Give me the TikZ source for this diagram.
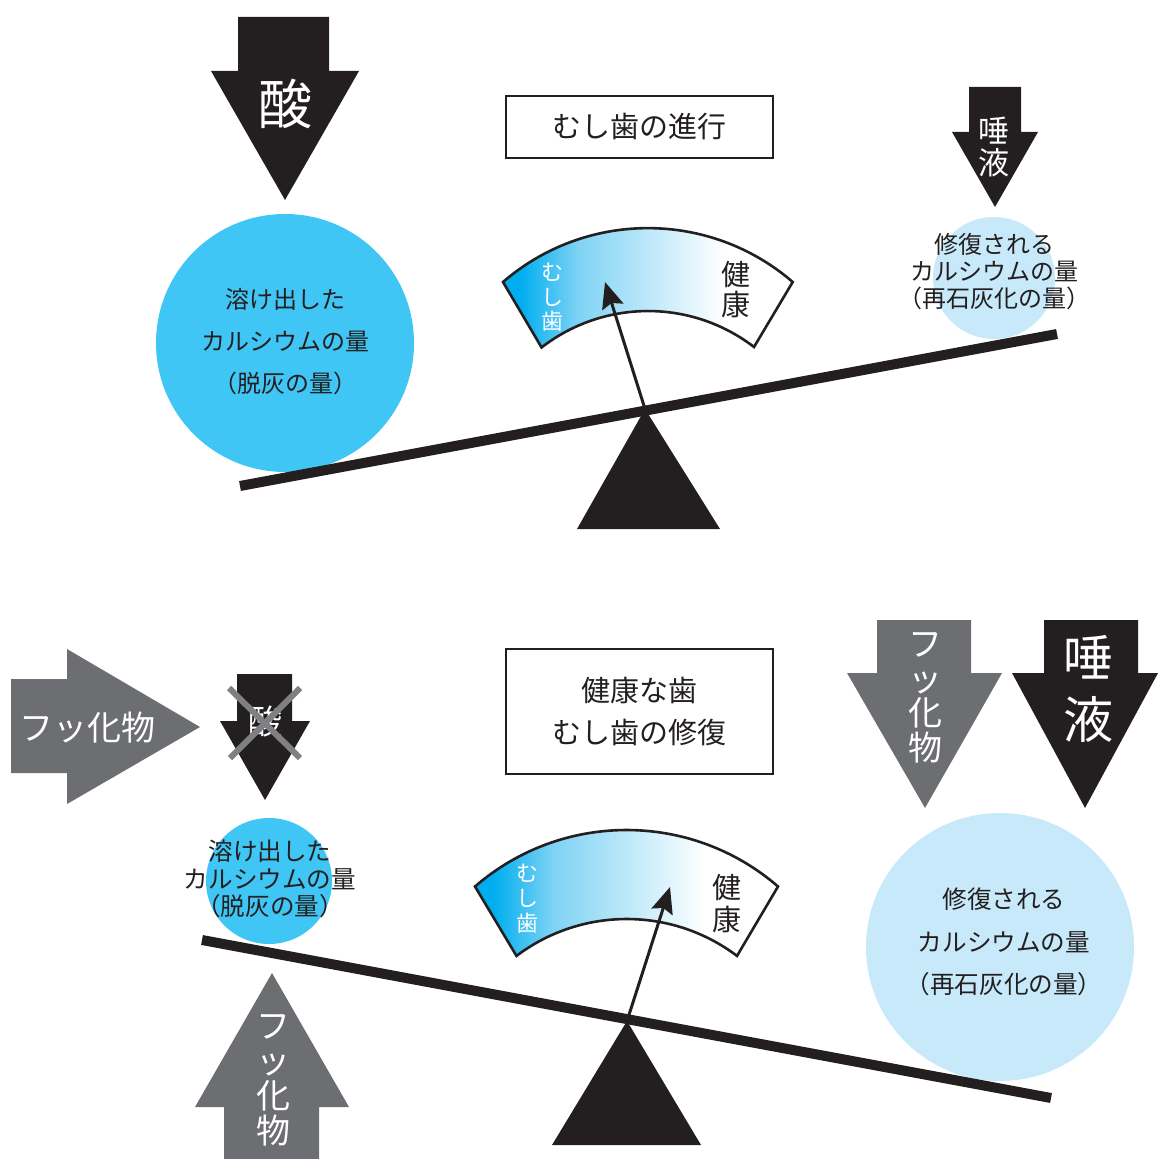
\documentclass[tikz,border=0pt]{standalone}
\usepackage{fontspec}
\setmainfont{Noto Sans CJK JP}
\usetikzlibrary{arrows.meta}
\definecolor{ink}{HTML}{231F20}
\definecolor{fgray}{HTML}{6D6E71}
\definecolor{xgray}{HTML}{7F8083}
\definecolor{bigcyan}{HTML}{40C6F4}
\definecolor{paleblue}{HTML}{C7E9F9}
\definecolor{gcyan}{HTML}{00AEEF}
\definecolor{gmid}{HTML}{7FD3F5}
\pgfdeclarehorizontalshading{gaugeshade}{100bp}{color(0bp)=(gcyan); color(28bp)=(gcyan); color(38bp)=(gmid); color(63bp)=(white); color(100bp)=(white)}
\newcommand{\fsz}[2]{\fontsize{#1}{#2}\selectfont}
\tikzset{
  blkarrow/.style={fill=ink, draw=none},
  gryarrow/.style={fill=fgray, draw=none},
  beamline/.style={draw=ink, line width=5pt},
  fulcrum/.style={fill=ink, draw=none},
  lbl/.style={inner sep=0pt, align=center, text=ink},
  wlbl/.style={inner sep=0pt, align=center, text=white},
  titlebox/.style={draw=ink, line width=1pt, inner sep=0pt, align=center, text=ink, minimum width=133.5pt},
  gaugeshape/.style={draw=ink, line width=1.3pt, line join=miter, shade, shading=gaugeshade},
  needle/.style={draw=ink, line width=1.5pt, -{Stealth[length=13pt,width=11pt,inset=2pt]}},
  crossline/.style={draw=xgray, line width=3pt},
}
\begin{document}
\begin{tikzpicture}[x=0.5pt,y=-0.5pt]
\useasboundingbox (0,0) rectangle (1159,1159);

% ================= TOP =================
% acid arrow
\fill[blkarrow] (238,17) -- (329,17) -- (329,71) -- (359,71) -- (285,200) -- (211,71) -- (238,71) -- cycle;
\node[wlbl, font=\fsz{27}{27}] (acidA) at (285,104) {酸};

% title
\node[titlebox, minimum height=31pt, font=\fsz{14.5}{14.5}] (titleA) at (639.5,127) {むし歯の進行};

% saliva arrow
\fill[blkarrow] (969,87) -- (1021,87) -- (1021,132) -- (1038,132) -- (995,207) -- (952,132) -- (969,132) -- cycle;
\node[wlbl, font=\fsz{15.5}{15.8}] (salivaA) at (994,147) {唾\\液};

% circles
\fill[bigcyan] (285,343) circle[radius=129];
\node[lbl, font=\fsz{12}{21}] (dissolveA) at (285,342) {溶け出した\\カルシウムの量\\（脱灰の量）};
\fill[paleblue] (994,278) circle[radius=61];
\node[lbl, font=\fsz{12}{13.5}] (repairA) at (994,272) {修復される\\カルシウムの量\\（再石灰化の量）};

% gauge
\path[gaugeshape] (503,282) arc[start angle=-130.8, end angle=-49.2, radius=221.7] -- (754,347) arc[start angle=-52.5, end angle=-127.75, radius=174] -- cycle;
\node[wlbl, font=\fsz{11}{12.25}] (cariesA) at (552,297.5) {む\\し\\歯};
\node[lbl, font=\fsz{14.5}{15}] (healthA) at (736,290) {健\\康};

% beam and fulcrum
\coordinate (beamAl) at (240,486);
\coordinate (beamAr) at (1057,334);
\draw[beamline] (beamAl) -- (beamAr);
\coordinate (pivotA) at (645,409);
\fill[fulcrum] (pivotA) -- (720,529) -- (577,529) -- cycle;
\coordinate (tipA) at (605,282);
\draw[needle] (pivotA) -- (tipA);

% ================= BOTTOM =================
% fluoride arrow left
\fill[gryarrow] (11,679) -- (67,679) -- (67,649) -- (200,727) -- (67,804) -- (67,773) -- (11,773) -- cycle;
\node[wlbl, font=\fsz{17}{17}] (fluorL) at (87,728) {フッ化物};

% crossed acid arrow
\fill[blkarrow] (237,674) -- (292,674) -- (292,721) -- (310,721) -- (265,800) -- (220,721) -- (237,721) -- cycle;
\node[wlbl, font=\fsz{17}{17}] (acidB) at (265,722) {酸};
\draw[crossline] (229,688) -- (300,758);
\draw[crossline] (300,688) -- (230,758);

% title
\node[titlebox, minimum height=62.5pt, font=\fsz{14.5}{21}] (titleB) at (639.5,711.5) {健康な歯\\むし歯の修復};

% fluoride arrow down (right)
\fill[gryarrow] (877,620) -- (971,620) -- (971,673) -- (1002,673) -- (925,808) -- (847,673) -- (877,673) -- cycle;
\node[wlbl, font=\fsz{17}{17.3}] (fluorR) at (925,698) {フ\\ッ\\化\\物};

% saliva arrow down (right)
\fill[blkarrow] (1044,620) -- (1138,620) -- (1138,673) -- (1158,673) -- (1085,808) -- (1012,673) -- (1044,673) -- cycle;
\node[wlbl, font=\fsz{25}{31}] (salivaB) at (1088,689) {唾\\液};

% circles
\fill[bigcyan] (269,881) circle[radius=63];
\node[lbl, font=\fsz{12.3}{13.75}] (dissolveB) at (270,879) {溶け出した\\カルシウムの量\\（脱灰の量）};
\fill[paleblue] (1000,947) circle[radius=134];
\node[lbl, font=\fsz{12.3}{21.25}] (repairB) at (1004,942) {修復される\\カルシウムの量\\（再石灰化の量）};

% gauge
\path[gaugeshape] (475,886.5) arc[start angle=-130.9, end angle=-49.1, radius=231.4] -- (737,955.9) arc[start angle=-53, end angle=-127, radius=183.2] -- cycle;
\node[wlbl, font=\fsz{11}{12.5}] (cariesB) at (527,899) {む\\し\\歯};
\node[lbl, font=\fsz{14.5}{16}] (healthB) at (727,904) {健\\康};

% beam and fulcrum
\coordinate (beamBl) at (202,940);
\coordinate (beamBr) at (1051,1098);
\draw[beamline] (beamBl) -- (beamBr);
\coordinate (pivotB) at (627,1021);
\fill[fulcrum] (pivotB) -- (701,1145) -- (552,1145) -- cycle;
\coordinate (tipB) at (670,887);
\draw[needle] (pivotB) -- (tipB);

% fluoride arrow up (bottom left)
\fill[gryarrow] (272,973) -- (349,1107) -- (319,1107) -- (319,1159) -- (224,1159) -- (224,1107) -- (195,1107) -- cycle;
\node[wlbl, font=\fsz{17}{17.5}] (fluorU) at (273,1080.5) {フ\\ッ\\化\\物};
\end{tikzpicture}
\end{document}
